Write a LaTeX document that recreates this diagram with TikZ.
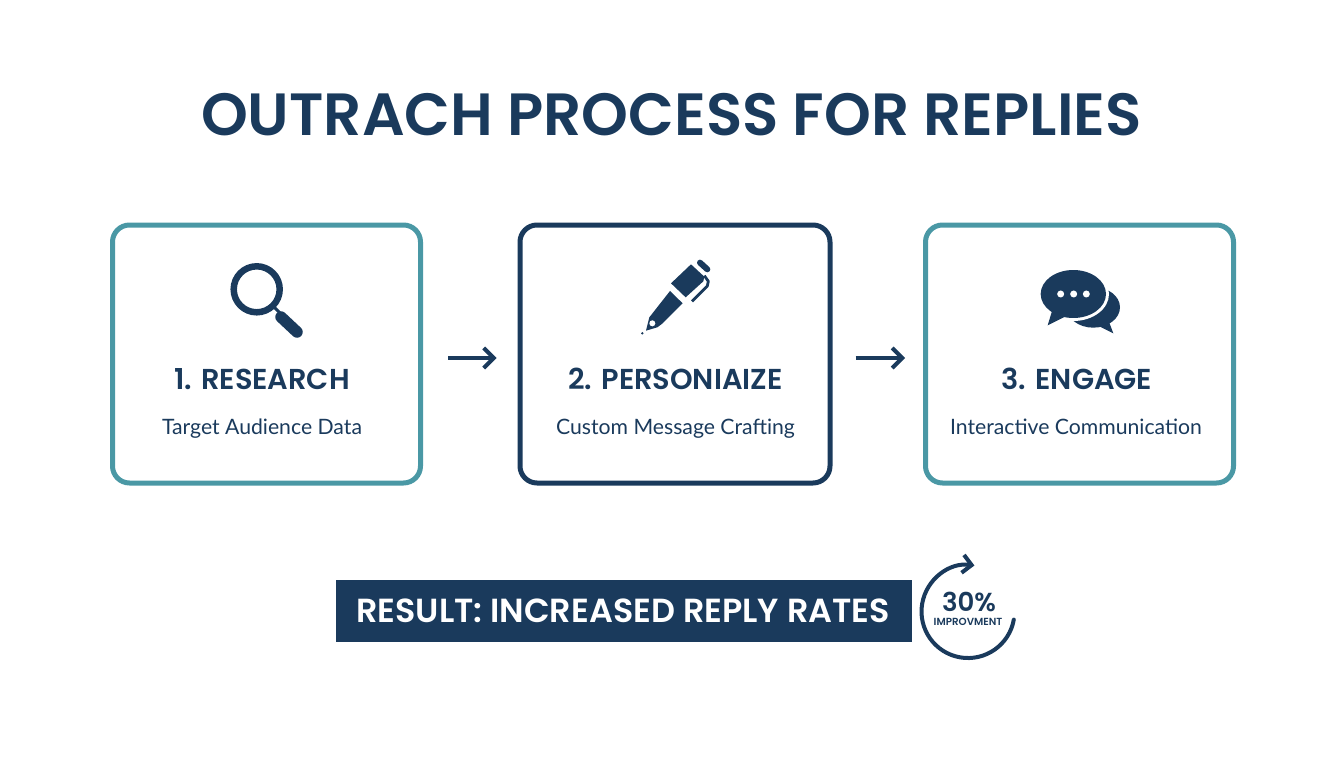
\documentclass[tikz,border=0pt]{standalone}
\usepackage{xcolor}
\usepackage{fontspec}
\setmainfont{Poppins}[BoldFont={Poppins SemiBold}]
\newfontfamily\bodyfont{Lato}
\usetikzlibrary{arrows.meta}
\definecolor{navy}{HTML}{1A3A5C}
\definecolor{teal}{HTML}{4A98A5}

\begin{document}
\begin{tikzpicture}[x=1pt,y=-1pt,
    stepbox/.style={draw=teal,line width=5pt,rounded corners=17pt,minimum height=258pt,inner sep=0pt},
    steptitle/.style={navy,anchor=base,font=\fontsize{28.8}{30}\selectfont\bfseries,inner sep=0pt},
    stepnote/.style={navy,anchor=base,font=\bodyfont\fontsize{21.2}{24}\selectfont,inner sep=0pt},
    flowarrow/.style={navy,line width=4pt,-{Straight Barb[length=10pt,width=20pt,line width=4pt]}}]
  \useasboundingbox (0,0) rectangle (1344,768);
  %title
  \node[navy,anchor=base,font=\fontsize{59.6}{64}\selectfont\bfseries,inner sep=0pt] (title) at (671.5,135) {OUTRACH PROCESS FOR REPLIES};

  %the three steps
  \node[stepbox,minimum width=308pt] (research) at (266.5,354) {};
  \node[stepbox,draw=navy,minimum width=310pt] (personalize) at (675,354) {};
  \node[stepbox,minimum width=308pt] (engage) at (1079.5,354) {};
  \node[steptitle] (researchtitle) at (262,389) {1. RESEARCH};
  \node[steptitle] (personalizetitle) at (675.5,389) {2. PERSONIAIZE};
  \node[steptitle] (engagetitle) at (1077,389) {3. ENGAGE};
  \node[stepnote] (researchnote) at (262,434) {Target Audience Data};
  \node[stepnote] (personalizenote) at (675.5,434) {Custom Message Crafting};
  \node[stepnote] (engagenote) at (1076,434) {Interactive Communication};

  %arrows between boxes
  \draw[flowarrow,shorten <=25pt,shorten >=21pt] ([yshift=-4pt]research.east) -- ([yshift=-4pt]personalize.west);
  \draw[flowarrow,shorten <=23pt,shorten >=18pt] ([yshift=-4pt]personalize.east) -- ([yshift=-4pt]engage.west);

  %magnifier
  \draw[navy,line width=6.5pt] (256.7,289.3) circle (23);
  \draw[navy,line width=3pt] (273,306) -- (280,313);
  \draw[navy,line width=11.5pt,line cap=round] (281,317) -- (297,332);

  %pen
  \begin{scope}[shift={(620,240)},x=0.3333pt,y=-0.3333pt]
    \fill[navy] (213,73) -- (253,110) -- (250,124) -- (197,172) -- (153,130) -- cycle;
    \fill[navy] (150,153) -- (188,190) -- (128,250) -- (112,262) -- (78,272) -- (88,232) -- cycle;
    \fill[white] (97,250) circle (9);
    \fill[navy] (67,280) circle (4);
    \draw[navy,line width=6pt,line cap=round] (240,68) -- (262,88);
    \draw[navy,line width=2.8pt,line join=round] (253,107) -- (265,124) -- (262,138) -- (216,184);
  \end{scope}

  %chat bubbles
  \begin{scope}[shift={(1020,250)},x=0.3333pt,y=-0.3333pt]
    \fill[navy] (220,172) ellipse (80 and 61);
    \fill[navy] (230,225) -- (280,250) -- (265,210) -- cycle;
    \fill[white] (160,132) ellipse (107 and 81);
    \fill[navy] (160,132) ellipse (98 and 72);
    \fill[navy] (97,180) -- (83,226) -- (135,200) -- cycle;
    \foreach \dotx in {122,161,199}
      \fill[white] (\dotx,132) circle (10.5);
  \end{scope}

  %result bar
  \node[fill=navy,minimum width=576pt,minimum height=62pt,inner sep=0pt] (resultbar) at (624,611) {};
  \node[white,anchor=base,font=\fontsize{33.4}{36}\selectfont\bfseries,inner sep=0pt] (resulttext) at (623,622) {RESULT: INCREASED REPLY RATES};

  %improvement ring
  \draw[navy,line width=4pt,line cap=round,-{Straight Barb[length=9pt,width=18pt,line width=4pt]}] (1013.8,619.6) arc (10:278:46.5);
  \node[navy,anchor=base,font=\fontsize{26}{27}\bfseries\selectfont,inner sep=0pt] (percent) at (969,611) {30\%};
  \node[navy,anchor=base,font=\fontsize{10.3}{12}\selectfont\bfseries,inner sep=0pt] (improve) at (968,625) {IMPROVMENT};
\end{tikzpicture}
\end{document}
